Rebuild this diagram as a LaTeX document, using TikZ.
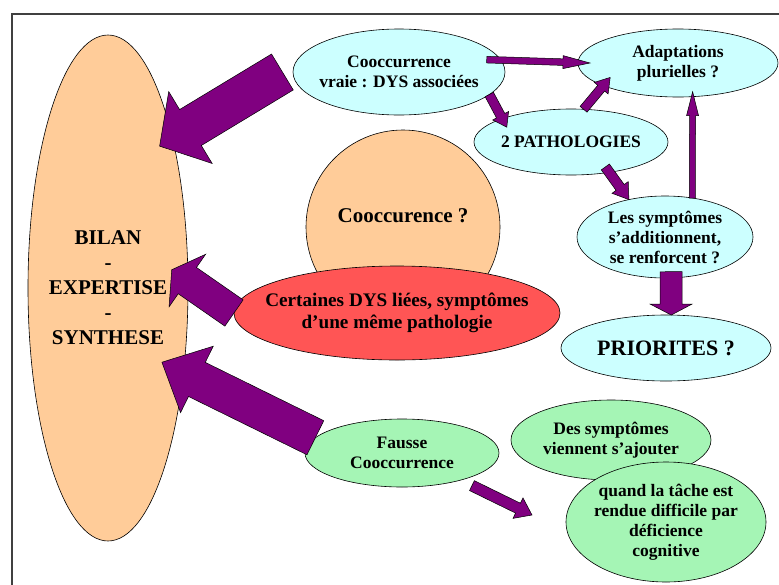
\documentclass[tikz,border=0pt]{standalone}
\usepackage{fontspec}
\setmainfont{Liberation Serif}
\usetikzlibrary{shapes.geometric,calc}

\definecolor{peche}{HTML}{FFCC99}
\definecolor{ciel}{HTML}{CCFFFF}
\definecolor{rouge}{HTML}{FF5555}
\definecolor{vert}{HTML}{A5F5B5}
\definecolor{violet}{HTML}{800080}

\tikzset{
  bulle/.style={ellipse, draw=black, line width=0.6pt, inner xsep=-60pt, inner ysep=-30pt,
    outer sep=0pt, align=center, font=\bfseries\fontsize{17.5}{20}\selectfont},
  grande/.style={font=\bfseries\fontsize{21}{25}\selectfont},
  fleche/.style={fill=violet, draw=black, line width=0.5pt, line join=miter},
}

% fleche pleine : depart, arrivee, demi-corps, demi-tete, longueur tete
\newcommand{\grosseFleche}[5]{%
  \path (#1) coordinate (gf-s) (#2) coordinate (gf-t);
  \path ($(gf-t)!#5!(gf-s)$) coordinate (gf-h);
  \draw[fleche] ($(gf-s)!#3!90:(gf-t)$) -- ($(gf-h)!#3!90:(gf-t)$)
    -- ($(gf-h)!#4!90:(gf-t)$) -- (gf-t) -- ($(gf-h)!#4!-90:(gf-t)$)
    -- ($(gf-h)!#3!-90:(gf-t)$) -- ($(gf-s)!#3!-90:(gf-t)$) -- cycle;
}

\begin{document}
\begin{tikzpicture}[x=1pt,y=-1pt]

\clip (0,0) rectangle (779,584);
\fill[white] (0,0) rectangle (779,584);
\draw[line width=1.5pt, black!75] (12,14) rectangle (800,600);

% colonne de gauche
\node[bulle, grande, fill=peche, minimum width=160pt, minimum height=506pt] (bilan) at (108,288)
  {BILAN\\-\\EXPERTISE\\-\\SYNTHESE};

% centre
\node[circle, draw=black, line width=0.6pt, fill=peche, minimum size=194pt, inner sep=0pt,
  grande, text depth=22pt] (cooc) at (403,227) {Cooccurence ?};
\node[bulle, fill=rouge, minimum width=326pt, minimum height=94pt,
  font=\bfseries\fontsize{19.2}{22}\selectfont] (dys) at (397,313)
  {Certaines DYS liées, symptômes\\d’une même pathologie};

% haut
\node[bulle, fill=ciel, minimum width=212pt, minimum height=86pt] (vraie) at (399,72)
  {Cooccurrence\\vraie : DYS associées};
\node[bulle, fill=ciel, minimum width=200pt, minimum height=68pt] (adapt) at (678,63)
  {Adaptations\\plurielles ?};
\node[bulle, fill=ciel, minimum width=194pt, minimum height=66pt] (patho) at (571,142)
  {2 PATHOLOGIES};
\node[bulle, fill=ciel, minimum width=176pt, minimum height=82pt] (symp) at (665,237)
  {Les symptômes\\s’additionnent,\\se renforcent ?};
\node[bulle, fill=ciel, minimum width=210pt, minimum height=66pt,
  font=\bfseries\fontsize{22}{24}\selectfont] (prio) at (666,348) {PRIORITES ?};

% bas
\node[bulle, fill=vert, minimum width=194pt, minimum height=68pt] (fausse) at (402,453)
  {Fausse\\Cooccurrence};
\node[bulle, fill=vert, minimum width=200pt, minimum height=80pt] (ajout) at (611,440)
  {Des symptômes\\viennent s’ajouter};
\node[bulle, fill=vert, minimum width=200pt, minimum height=120pt] (tache) at (666,522)
  {quand la tâche est\\rendue difficile par\\déficience\\cognitive};
\coordinate (finfausse) at (532,515);

% grosses fleches vers le bilan
\grosseFleche{$(vraie.center)!1.1!(vraie.west)$}{$(bilan.center)!0.855!(bilan.70)$}{21pt}{42pt}{36pt}
\grosseFleche{dys.west}{$(bilan.center)!0.8!(bilan.16)$}{16pt}{32pt}{19pt}
\grosseFleche{fausse.170}{$(bilan.center)!0.735!(bilan.-54)$}{19pt}{37pt}{39pt}

% petites fleches
\grosseFleche{$(vraie.center)!0.876!(vraie.8)$}{$(adapt.center)!0.88!(adapt.west)$}{3.3pt}{6.5pt}{27pt}
\grosseFleche{vraie.-14}{$(patho.center)!0.8!(patho.167)$}{4.7pt}{9pt}{13pt}
\grosseFleche{patho.69}{$(adapt.center)!0.8!(adapt.192)$}{4.5pt}{9pt}{14pt}
\grosseFleche{$(patho.center)!0.835!(patho.-36)$}{symp.134}{5pt}{10pt}{15pt}
\grosseFleche{symp.55}{$(adapt.center)!0.857!(adapt.-63)$}{3pt}{6pt}{24pt}
\grosseFleche{$(symp.center)!0.85!(symp.-80)$}{prio.81}{11pt}{21pt}{11pt}
\grosseFleche{$(fausse.center)!1.2!(fausse.-25)$}{finfausse}{5.5pt}{11.4pt}{15.6pt}

\end{tikzpicture}
\end{document}
